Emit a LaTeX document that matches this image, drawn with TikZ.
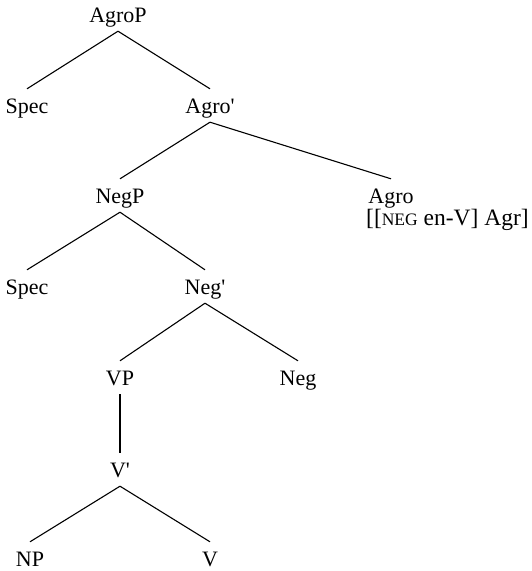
\documentclass[tikz,border=0pt]{standalone}
\usepackage{fontspec}
\setmainfont{Liberation Serif}
\usepackage{tikz}
\usetikzlibrary{positioning}

\newcommand{\barmark}{\textquotesingle}

\begin{document}
\begin{tikzpicture}[
    x=1pt, y=-1pt,
    cat/.style={inner sep=0pt, text height=24pt, text depth=9pt, anchor=base, font=\fontsize{22}{24}\selectfont},
    feat/.style={inner sep=0pt, anchor=base west, font=\fontsize{23.5}{26}\selectfont},
    branch/.style={line width=1.1pt}
]
\useasboundingbox (0,0) rectangle (532,571);
% top of the tree
\node[cat] (agrop) at (118, 22) {AgroP};
\node[cat] (spec1) at (27, 113) {Spec};
\node[cat] (agrobar) at (210, 113) {Agro\barmark};
\draw[branch] (agrop.south) -- (spec1.north);
\draw[branch] (agrop.south) -- (agrobar.north);

\node[cat] (negp) at (120, 203) {NegP};
\node[cat, text depth=2pt] (agro) at (391, 203) {Agro};
\node[feat, text height=13pt] (agrofeat) at (366, 225)
    {[[{\fontsize{17.5}{18}\selectfont NEG} en-V] Agr]};
\draw[branch] (agrobar.south) -- (negp.north);
\draw[branch] (agrobar.south) -- (agro.north);

% negation phrase
\node[cat] (spec2) at (27, 294) {Spec};
\node[cat] (negbar) at (205, 294) {Neg\barmark};
\draw[branch] (negp.south) -- (spec2.north);
\draw[branch] (negp.south) -- (negbar.north);

\node[cat] (vp) at (120, 385) {VP};
\node[cat] (neg) at (298, 385) {Neg};
\draw[branch] (negbar.south) -- (vp.north);
\draw[branch] (negbar.south) -- (neg.north);

% verb phrase
\node[cat] (vbar) at (120, 477) {V\barmark};
\draw[branch] (vp.south) -- (vbar.north);

\node[cat] (np) at (30, 566) {NP};
\node[cat] (v) at (210, 566) {V};
\draw[branch] (vbar.south) -- (np.north);
\draw[branch] (vbar.south) -- (v.north);
\end{tikzpicture}
\end{document}
